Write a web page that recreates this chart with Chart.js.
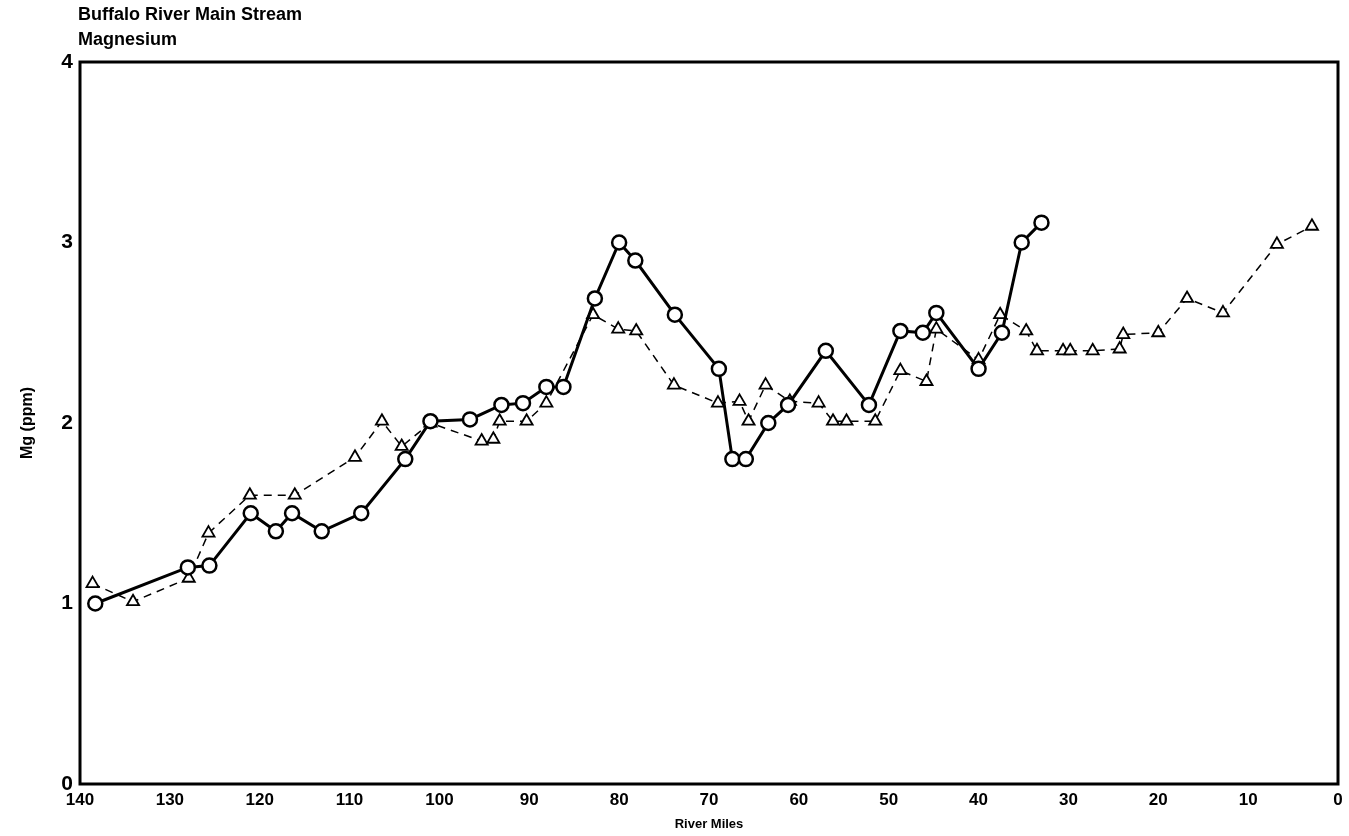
<!DOCTYPE html>
<html>
<head>
<meta charset="utf-8">
<title>Buffalo River Main Stream - Magnesium</title>
<script src="https://cdn.jsdelivr.net/npm/chart.js@4.4.1/dist/chart.umd.min.js"></script>
<style>
  html, body { margin: 0; padding: 0; background: #fff; }
  #wrap { width: 1349px; height: 836px; position: relative; }
</style>
</head>
<body>
<div id="wrap"><canvas id="chartMg"></canvas></div>
<script>
// titulo e eixos
const titleLines = ["Buffalo River Main Stream", "Magnesium"];
const xTitle = "River Miles";
const yTitle = "Mg (ppm)";
const xTicks = [140, 130, 120, 110, 100, 90, 80, 70, 60, 50, 40, 30, 20, 10, 0];
const yTicks = [0, 1, 2, 3, 4];

// serie com circulos (linha cheia)
const circleMiles = [138.3, 128.0, 125.6, 121.0, 118.2, 116.4, 113.1, 108.7, 103.8, 101.0,
    96.6, 93.1, 90.7, 88.1, 86.2, 82.7, 80.0, 78.2, 73.8, 68.9, 67.4, 65.9, 63.4, 61.2,
    57.0, 52.2, 48.7, 46.2, 44.7, 40.0, 37.4, 35.2, 33.0];
const circleMg = [1.00, 1.20, 1.21, 1.50, 1.40, 1.50, 1.40, 1.50, 1.80, 2.01,
    2.02, 2.10, 2.11, 2.20, 2.20, 2.69, 3.00, 2.90, 2.60, 2.30, 1.80, 1.80, 2.00, 2.10,
    2.40, 2.10, 2.51, 2.50, 2.61, 2.30, 2.50, 3.00, 3.11];

// serie com triangulos (tracejada)
const triMiles = [138.6, 134.1, 127.9, 125.7, 121.1, 116.1, 109.4, 106.4, 104.2, 101.0,
    95.3, 94.0, 93.3, 90.3, 88.1, 82.9, 80.1, 78.1, 73.9, 69.0, 66.6, 65.6, 63.7, 61.0,
    57.8, 56.2, 54.7, 51.5, 48.7, 45.8, 44.7, 40.0, 37.6, 34.7, 33.5, 30.6, 29.8, 27.3,
    24.3, 23.9, 20.0, 16.8, 12.8, 6.8, 2.9];
const triMg = [1.11, 1.01, 1.14, 1.39, 1.60, 1.60, 1.81, 2.01, 1.87, 2.00,
    1.90, 1.91, 2.01, 2.01, 2.11, 2.60, 2.52, 2.51, 2.21, 2.11, 2.12, 2.01, 2.21, 2.12,
    2.11, 2.01, 2.01, 2.01, 2.29, 2.23, 2.52, 2.35, 2.60, 2.51, 2.40, 2.40, 2.40, 2.40,
    2.41, 2.49, 2.50, 2.69, 2.61, 2.99, 3.09];

const toPoints = (xs, ys) => xs.map((x, i) => ({ x, y: ys[i] }));

const fontFamily = "'Liberation Sans', Arial, sans-serif";

// moldura do grafico e titulo em duas linhas
const framePlugin = {
    id: "frame",
    afterDraw(chart) {
        const { ctx, chartArea: a } = chart;
        ctx.save();
        ctx.strokeStyle = "#000";
        ctx.lineWidth = 3;
        ctx.strokeRect(a.left, a.top, a.right - a.left, a.bottom - a.top);
        ctx.fillStyle = "#000";
        ctx.font = "bold 18px " + fontFamily;
        ctx.textBaseline = "middle";
        ctx.textAlign = "left";
        titleLines.forEach((t, i) => ctx.fillText(t, a.left - 2, 15 + i * 25));
        ctx.restore();
    }
};

new Chart(document.getElementById("chartMg").getContext("2d"), {
    type: "line",
    data: {
        datasets: [{
            label: "circles",
            data: toPoints(circleMiles, circleMg),
            borderColor: "#000",
            borderWidth: 3,
            pointStyle: "circle",
            pointRadius: 7,
            pointBorderWidth: 2.5,
            pointBackgroundColor: "#fff",
            pointBorderColor: "#000",
            tension: 0
        }, {
            label: "triangles",
            data: toPoints(triMiles, triMg),
            borderColor: "#000",
            borderWidth: 1.5,
            borderDash: [8, 6],
            pointStyle: "triangle",
            pointRadius: 7,
            pointBorderWidth: 1.8,
            pointBackgroundColor: "#fff",
            pointBorderColor: "#000",
            tension: 0
        }]
    },
    options: {
        responsive: true,
        maintainAspectRatio: false,
        animation: false,
        layout: { padding: { top: 62, right: 11, left: 0, bottom: 0 } },
        plugins: {
            legend: { display: false },
            tooltip: { enabled: false },
            title: { display: false }
        },
        scales: {
            x: {
                type: "linear",
                reverse: true,
                min: 0,
                max: 140,
                afterBuildTicks: s => { s.ticks = xTicks.map(v => ({ value: v })); },
                afterFit: s => { s.height = 52; },
                grid: { display: false, drawTicks: false },
                border: { display: false },
                ticks: {
                    color: "#000",
                    padding: 6,
                    maxRotation: 0,
                    autoSkip: false,
                    font: { family: fontFamily, size: 17, weight: "bold" }
                },
                title: {
                    display: true,
                    text: xTitle,
                    color: "#000",
                    padding: { top: 0, bottom: 4 },
                    font: { family: fontFamily, size: 13, weight: "bold" }
                }
            },
            y: {
                min: 0,
                max: 4,
                afterBuildTicks: s => { s.ticks = yTicks.map(v => ({ value: v })); },
                afterFit: s => { s.width = 80; },
                grid: { display: false, drawTicks: false },
                border: { display: false },
                ticks: {
                    color: "#000",
                    padding: 7,
                    font: { family: fontFamily, size: 21, weight: "bold" }
                },
                title: {
                    display: true,
                    text: yTitle,
                    color: "#000",
                    padding: { top: 18, bottom: 0 },
                    font: { family: fontFamily, size: 16, weight: "bold" }
                }
            }
        }
    },
    plugins: [framePlugin]
});
</script>
</body>
</html>
